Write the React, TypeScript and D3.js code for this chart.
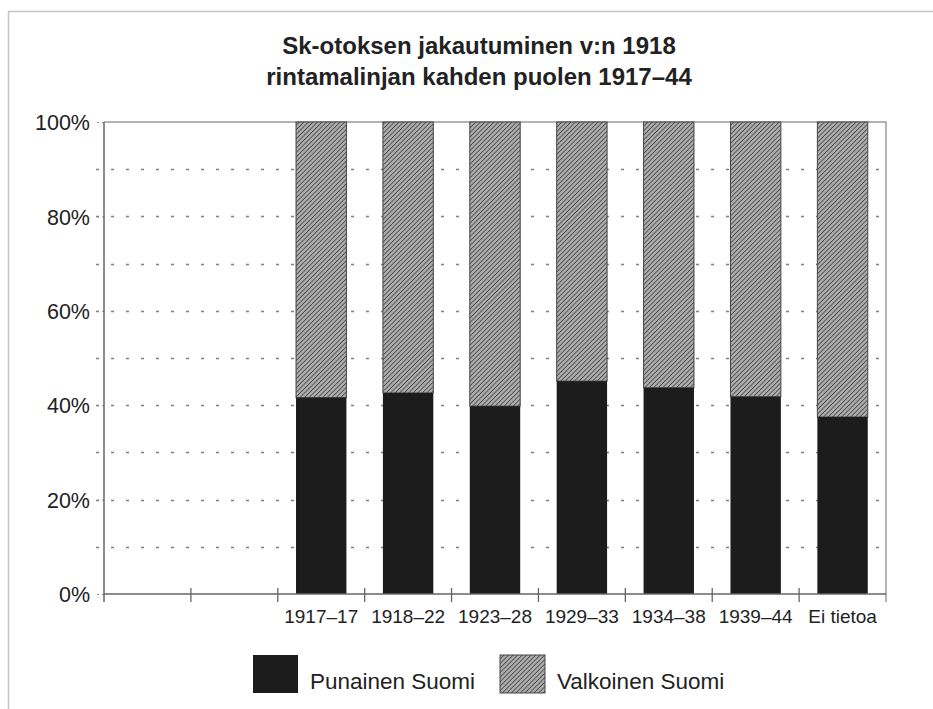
import React, { useEffect, useRef } from 'react';
import * as d3 from 'd3';

const titleLines = ['Sk-otoksen jakautuminen v:n 1918', 'rintamalinjan kahden puolen 1917–44'];
// first two slots are empty on the original chart
const categories = ['', '', '1917–17', '1918–22', '1923–28', '1929–33', '1934–38', '1939–44', 'Ei tietoa'];
const punainen = [null, null, 41.6, 42.6, 39.8, 45.1, 43.7, 41.8, 37.5];
const valkoinen = [null, null, 58.4, 57.4, 60.2, 54.9, 56.3, 58.2, 62.5];
const yTicks = [0, 20, 40, 60, 80, 100];
const gridValues = [10, 20, 30, 40, 50, 60, 70, 80, 90];
const seriesNames = ['Punainen Suomi', 'Valkoinen Suomi'];

const FONT = '"Liberation Sans", Arial, Helvetica, sans-serif';

const App = () => {
  const ref = useRef<SVGSVGElement | null>(null);

  const drawChart = () => {
    const svgWidth = 933,
      svgHeight = 709;
    const left = 104,
      right = 886,
      top = 122,
      bottom = 594;

    const svg = d3.select(ref.current);
    svg.selectAll('*').remove();
    svg.attr('width', svgWidth).attr('height', svgHeight);

    const defs = svg.append('defs');
    const pat = defs
      .append('pattern')
      .attr('id', 'hatch')
      .attr('patternUnits', 'userSpaceOnUse')
      .attr('width', 3.2)
      .attr('height', 3.2)
      .attr('patternTransform', 'rotate(45)');
    pat.append('rect').attr('width', 3.2).attr('height', 3.2).attr('fill', '#acacac');
    pat
      .append('line')
      .attr('x1', 0)
      .attr('y1', 0)
      .attr('x2', 0)
      .attr('y2', 3.2)
      .attr('stroke', '#353535')
      .attr('stroke-width', 1.4);

    // frame of the scanned page
    svg
      .append('path')
      .attr('d', `M8.5,${svgHeight} V11.5 H${svgWidth}`)
      .attr('fill', 'none')
      .attr('stroke', '#c4c4c4')
      .attr('stroke-width', 1.5);

    const title = svg
      .append('text')
      .attr('text-anchor', 'middle')
      .attr('font-family', FONT)
      .attr('font-weight', 'bold')
      .attr('font-size', 24)
      .attr('fill', '#222');
    titleLines.forEach((t, i) => {
      title
        .append('tspan')
        .attr('x', 479)
        .attr('y', 54 + i * 31)
        .text(t);
    });

    const x = d3
      .scaleBand<number>()
      .domain(d3.range(categories.length))
      .range([left, right])
      .paddingInner(0.42)
      .paddingOuter(0.21);
    const y = d3.scaleLinear().domain([0, 100]).range([bottom, top]);
    const step = x.step();

    // dotted grid every 10 %
    svg
      .append('g')
      .selectAll('line')
      .data(gridValues)
      .join('line')
      .attr('x1', left - 8)
      .attr('x2', right)
      .attr('y1', (d) => Math.round(y(d)) + 0.5)
      .attr('y2', (d) => Math.round(y(d)) + 0.5)
      .attr('stroke', '#808080')
      .attr('stroke-width', 1.3)
      .attr('stroke-dasharray', '3 12');

    // top and right border of plot
    svg
      .append('path')
      .attr('d', `M${left},${y(100)} H${right} V${bottom + 8}`)
      .attr('fill', 'none')
      .attr('stroke', '#9a9a9a')
      .attr('stroke-width', 1.5);

    // bars
    const idx = d3.range(categories.length).filter((i) => punainen[i] != null);
    svg
      .append('g')
      .selectAll('rect')
      .data(idx)
      .join('rect')
      .attr('x', (i) => x(i)!)
      .attr('width', x.bandwidth())
      .attr('y', (i) => y(punainen[i]! + valkoinen[i]!))
      .attr('height', (i) => y(punainen[i]!) - y(punainen[i]! + valkoinen[i]!))
      .attr('fill', 'url(#hatch)')
      .attr('stroke', '#444')
      .attr('stroke-width', 1);
    svg
      .append('g')
      .selectAll('rect')
      .data(idx)
      .join('rect')
      .attr('x', (i) => x(i)!)
      .attr('width', x.bandwidth())
      .attr('y', (i) => y(punainen[i]!))
      .attr('height', (i) => bottom - y(punainen[i]!))
      .attr('fill', '#1c1c1c');

    // y axis
    const yAxis = svg
      .append('g')
      .attr('transform', `translate(${left},0)`)
      .call(d3.axisLeft(y).tickValues(yTicks).tickSize(8).tickFormat((d) => d + '%'));
    yAxis.select('.domain').remove();
    yAxis.selectAll('line').attr('stroke', '#888').attr('stroke-dasharray', '2 3');
    yAxis
      .selectAll('text')
      .attr('x', -14)
      .attr('dy', '0.36em')
      .attr('font-family', FONT)
      .attr('font-size', 21.5)
      .attr('fill', '#222');
    svg
      .append('line')
      .attr('x1', left)
      .attr('x2', left)
      .attr('y1', y(100))
      .attr('y2', bottom + 8)
      .attr('stroke', '#666')
      .attr('stroke-width', 1.5);

    // x axis: ticks at slot boundaries, labels under each slot
    const g = svg.append('g');
    g.append('line')
      .attr('x1', left)
      .attr('x2', right)
      .attr('y1', bottom)
      .attr('y2', bottom)
      .attr('stroke', '#666')
      .attr('stroke-width', 1.5);
    g.selectAll('line.tick')
      .data(d3.range(1, categories.length))
      .join('line')
      .attr('class', 'tick')
      .attr('x1', (k) => left + k * step)
      .attr('x2', (k) => left + k * step)
      .attr('y1', bottom - 6)
      .attr('y2', bottom + 8)
      .attr('stroke', '#666')
      .attr('stroke-width', 1.3);
    g.selectAll('text')
      .data(d3.range(categories.length))
      .join('text')
      .attr('x', (i) => x(i)! + x.bandwidth() / 2)
      .attr('y', 623)
      .attr('text-anchor', 'middle')
      .attr('font-family', FONT)
      .attr('font-size', 19)
      .attr('fill', '#222')
      .text((i) => categories[i]);

    // legend
    const legend = svg.append('g');
    const legendX = [253, 500];
    const fills = ['#1c1c1c', 'url(#hatch)'];
    seriesNames.forEach((name, i) => {
      legend
        .append('rect')
        .attr('x', legendX[i])
        .attr('y', 655)
        .attr('width', 45)
        .attr('height', 38)
        .attr('fill', fills[i])
        .attr('stroke', i === 1 ? '#444' : 'none');
      legend
        .append('text')
        .attr('x', legendX[i] + 57)
        .attr('y', 689)
        .attr('font-family', FONT)
        .attr('font-size', 22.5)
        .attr('fill', '#222')
        .text(name);
    });
  };

  useEffect(() => {
    drawChart();
  }, []);

  return (
    <div style={{ position: 'absolute', left: 0, top: 0, background: '#fff' }}>
      <svg ref={ref}></svg>
    </div>
  );
};

export default App;
